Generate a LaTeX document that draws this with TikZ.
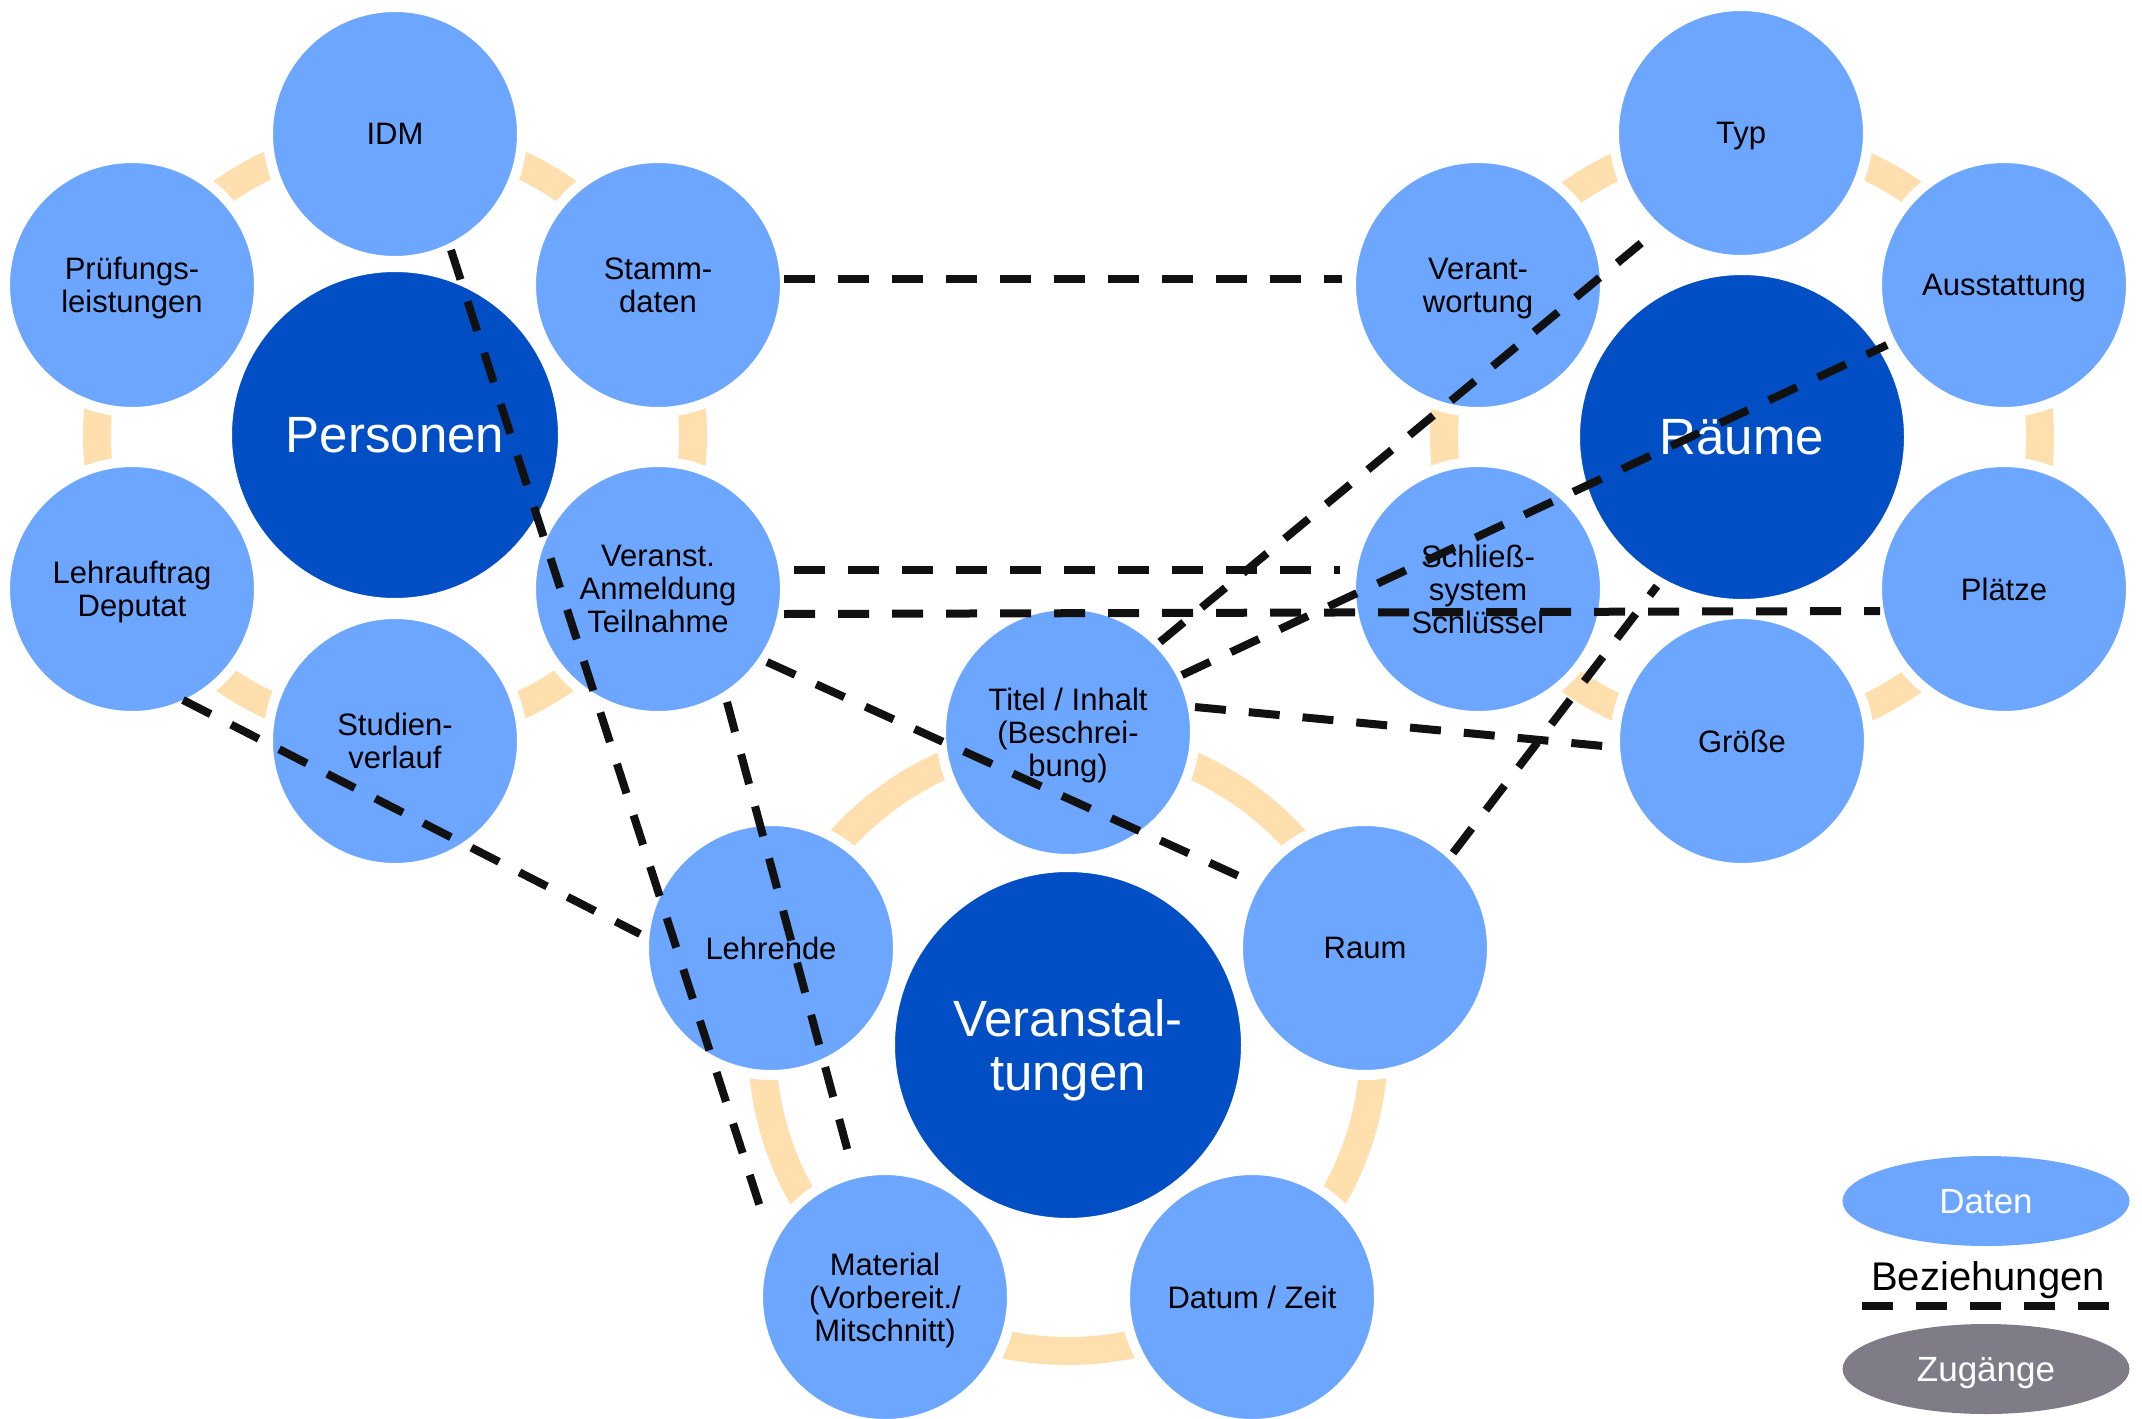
\documentclass[tikz,border=0pt]{standalone}
\usepackage{fontspec}
\setmainfont{Liberation Sans}
\usetikzlibrary{calc,shapes.geometric}
\definecolor{satblue}{RGB}{108,166,254}
\definecolor{hubblue}{RGB}{2,79,197}
\definecolor{ringc}{RGB}{255,223,173}
\definecolor{accgray}{RGB}{127,124,135}
\definecolor{lineblk}{RGB}{17,17,17}
\tikzset{
  sat/.style={circle, fill=satblue, draw=white, line width=10pt, minimum size=254pt, inner sep=0pt, align=center, text=black, text depth=0pt, font=\fontsize{31}{33}\selectfont},
  hub/.style={circle, fill=hubblue, draw=white, line width=6pt, inner sep=0pt, align=center, text=white, text depth=0pt, font=\fontsize{51}{54}\selectfont},
  ringline/.style={draw=ringc, line width=28pt},
  rel/.style={draw=lineblk, line width=8pt, dash pattern=on 31pt off 23pt},
  legel/.style={ellipse, minimum width=287pt, minimum height=90pt, inner sep=0pt, text=white, text depth=0pt, font=\fontsize{35}{38}\selectfont}
}
\begin{document}
\begin{tikzpicture}[x=1pt,y=-1pt]
\useasboundingbox (0,0) rectangle (2142,1419);
% hubs
\node[hub, minimum size=332pt] (Personen) at (395,435) {Personen};
\node[hub, minimum size=330pt] (Raeume) at (1742,437) {Räume};
\node[hub, minimum size=352pt] (Veranstaltungen) at (1068,1045) {Veranstal-\\tungen};
% rings
\draw[ringline] (Personen.center) circle[radius=298pt];
\draw[ringline] (Raeume.center) circle[radius=298pt];
\draw[ringline] (Veranstaltungen.center) circle[radius=306pt];
% Personen satellites
\node[sat] (IDM) at (395,134) {IDM};
\node[sat] (Stamm) at (658,285) {Stamm-\\daten};
\node[sat] (Pruef) at (132,285) {Prüfungs-\\leistungen};
\node[sat] (Lehr) at (132,589) {Lehrauftrag\\Deputat};
\node[sat] (Veranst) at (658,589) {Veranst.\\Anmeldung\\Teilnahme};
\node[sat] (Studien) at (395,741) {Studien-\\verlauf};
% Raeume satellites
\node[sat] (Typ) at (1741,133) {Typ};
\node[sat] (Verant) at (1478,285) {Verant-\\wortung};
\node[sat] (Ausst) at (2004,285) {Ausstattung};
\node[sat] (Schliess) at (1478,589) {Schließ-\\system\\Schlüssel};
\node[sat] (Plaetze) at (2004,589) {Plätze};
\node[sat] (Groesse) at (1742,741) {Größe};
% Veranstaltungen satellites
\node[sat] (Titel) at (1068,732) {Titel / Inhalt\\(Beschrei-\\bung)};
\node[sat] (Lehrende) at (771,948) {Lehrende};
\node[sat] (Raum) at (1365,948) {Raum};
\node[sat] (Material) at (885,1297) {Material\\(Vorbereit./\\Mitschnitt)};
\node[sat] (Datum) at (1252,1297) {Datum / Zeit};
% relations
\draw[rel] ($(Stamm)+(126,-6)$) -- ($(Verant)+(-136,-6)$);
\draw[rel] ($(Veranst)+(136,-19)$) -- ($(Schliess)+(-138,-19)$);
\draw[rel] ($(Veranst)+(126,25)$) -- ($(Plaetze)+(-124,22)$);
\draw[rel] ($(IDM)+(56,116)$) -- ($(Material)+(-123,-84)$);
\draw[rel] ($(Veranst)+(69,113)$) -- ($(Material)+(-37,-145)$);
\draw[rel] ($(Lehr)+(51,111)$) -- ($(Lehrende)+(-131,-14)$);
\draw[rel] ($(Veranst)+(109,73)$) -- ($(Raum)+(-124,-71)$);
\draw[rel] ($(Titel)+(127,-25)$) -- ($(Groesse)+(-139,5)$);
\draw[rel] ($(Raum)+(88,-95)$) -- ($(Raeume)+(-85,149)$);
\draw[rel] ($(Titel)+(92,-90)$) -- ($(Typ)+(-96,107)$);
\draw[rel] ($(Titel)+(114,-57)$) -- ($(Ausst)+(-117,60)$);
% legend
\node[legel, fill=satblue] (LegDaten) at (1986,1201) {Daten};
\node[anchor=base, text=black, font=\fontsize{40}{44}\selectfont, inner sep=0pt] (LegBez) at (1988,1290) {Beziehungen};
\coordinate (LegA) at (1862,1306);
\coordinate (LegB) at (2111,1306);
\draw[rel, dash pattern=on 30.5pt off 23.5pt] (LegA) -- (LegB);
\node[legel, fill=accgray] (LegZug) at (1986,1369) {Zugänge};
\end{tikzpicture}
\end{document}
